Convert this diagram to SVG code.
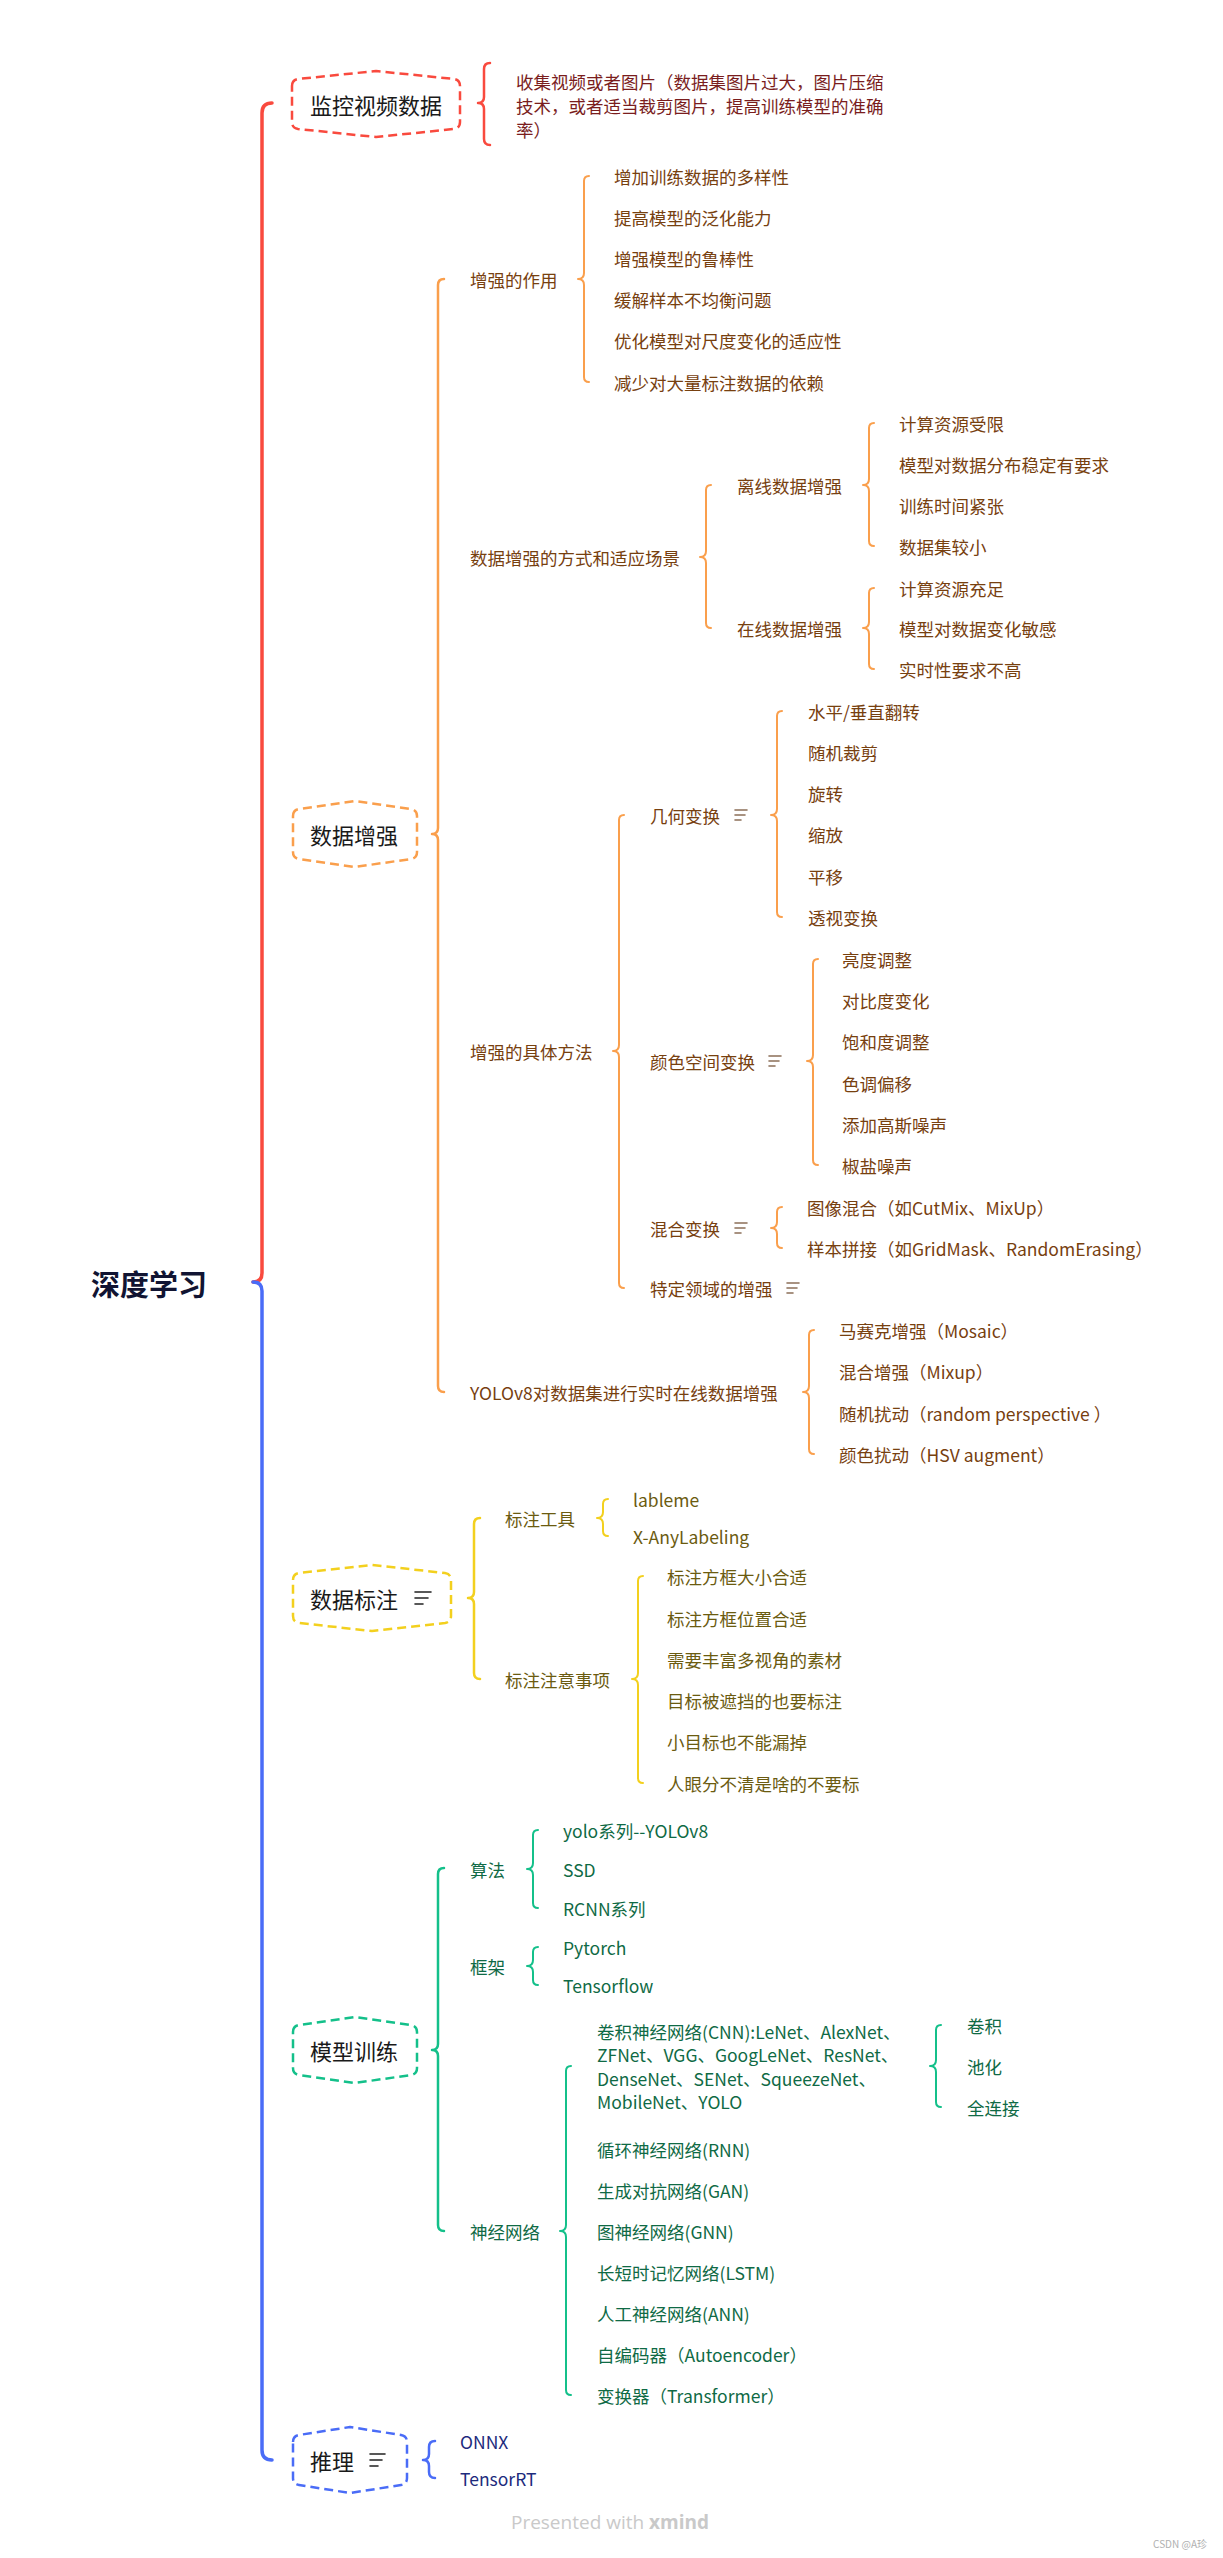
<svg xmlns="http://www.w3.org/2000/svg" width="1223" height="2558" viewBox="0 0 1223 2558">
<style>
text { font-family: "Noto Sans CJK SC", "Noto Sans", sans-serif; dominant-baseline: central; }
.t { font-size: 17.5px; }
.h { font-size: 22px; fill: #1a1a1a; }
.root { font-size: 29px; font-weight: bold; fill: #111432; }
.hex { fill: #ffffff; stroke-width: 2.5; stroke-dasharray: 9 5; stroke-linejoin: round; }
.b { fill: none; stroke-width: 2; stroke-linecap: round; stroke-linejoin: round; }
.b1 { fill: none; stroke-width: 2.5; stroke-linecap: round; stroke-linejoin: round; }
.main { fill: none; stroke-width: 3.5; stroke-linecap: round; stroke-linejoin: round; }
.ic { fill: none; stroke-width: 1.6; stroke-linecap: round; }
.red { stroke: #f94a3e; } .ora { stroke: #fa9f4c; } .yel { stroke: #f3d01e; } .grn { stroke: #14c08a; } .blu { stroke: #4a6cf7; }
.tr { fill: #7a1d1d; } .to { fill: #77400f; } .ty { fill: #6b5b10; } .tg { fill: #0f6a45; } .tb { fill: #1d2b7d; }
</style>

<g id="connectors">
  <path class="main red" d="M272,103 Q262,103 262,113 L262,1273 Q262,1282 253,1282"/>
  <path class="main blu" d="M253,1282 Q262,1282 262,1291 L262,2450 Q262,2460 272,2460"/>
  <path class="b1 red" d="M490,63 Q484,63 484,69 L484,97 Q484,103 478,103 Q484,103 484,109 L484,139 Q484,145 490,145"/>
  <path class="b1 ora" d="M444,279 Q438,279 438,285 L438,828 Q438,834 432,834 Q438,834 438,840 L438,1386 Q438,1392 444,1392"/>
  <path class="b1 yel" d="M480,1518 Q474,1518 474,1524 L474,1592 Q474,1598 468,1598 Q474,1598 474,1604 L474,1673 Q474,1679 480,1679"/>
  <path class="b1 grn" d="M444,1868 Q438,1868 438,1874 L438,2044 Q438,2050 432,2050 Q438,2050 438,2056 L438,2225 Q438,2231 444,2231"/>
  <path class="b1 blu" d="M435,2441 Q429,2441 429,2447 L429,2454 Q429,2460 423,2460 Q429,2460 429,2466 L429,2472 Q429,2478 435,2478"/>
  <path class="b ora" d="M589,176 Q584,176 584,181 L584,273 Q584,279 578,279 Q584,279 584,285 L584,377 Q584,382 589,382"/>
  <path class="b ora" d="M711,485 Q706,485 706,490 L706,551 Q706,557 700,557 Q706,557 706,563 L706,623 Q706,628 711,628"/>
  <path class="b ora" d="M874,423 Q869,423 869,428 L869,479 Q869,485 863,485 Q869,485 869,491 L869,541 Q869,546 874,546"/>
  <path class="b ora" d="M874,588 Q869,588 869,593 L869,622 Q869,628 863,628 Q869,628 869,634 L869,664 Q869,669 874,669"/>
  <path class="b ora" d="M624,815 Q619,815 619,820 L619,1045 Q619,1051 613,1051 Q619,1051 619,1057 L619,1283 Q619,1288 624,1288"/>
  <path class="b ora" d="M782,711 Q777,711 777,716 L777,809 Q777,815 771,815 Q777,815 777,821 L777,912 Q777,917 782,917"/>
  <path class="b ora" d="M818,959 Q813,959 813,964 L813,1055 Q813,1061 807,1061 Q813,1061 813,1067 L813,1160 Q813,1165 818,1165"/>
  <path class="b ora" d="M782,1207 Q777,1207 777,1212 L777,1222 Q777,1228 771,1228 Q777,1228 777,1234 L777,1243 Q777,1248 782,1248"/>
  <path class="b ora" d="M814,1330 Q809,1330 809,1335 L809,1386 Q809,1392 803,1392 Q809,1392 809,1398 L809,1449 Q809,1454 814,1454"/>
  <path class="b yel" d="M608,1499 Q603,1499 603,1504 L603,1512 Q603,1518 597,1518 Q603,1518 603,1524 L603,1531 Q603,1536 608,1536"/>
  <path class="b yel" d="M643,1576 Q638,1576 638,1581 L638,1673 Q638,1679 632,1679 Q638,1679 638,1685 L638,1778 Q638,1783 643,1783"/>
  <path class="b grn" d="M538,1830 Q533,1830 533,1835 L533,1863 Q533,1869 527,1869 Q533,1869 533,1875 L533,1903 Q533,1908 538,1908"/>
  <path class="b grn" d="M538,1947 Q533,1947 533,1952 L533,1960 Q533,1966 527,1966 Q533,1966 533,1972 L533,1980 Q533,1985 538,1985"/>
  <path class="b grn" d="M571,2066 Q566,2066 566,2071 L566,2225 Q566,2231 560,2231 Q566,2231 566,2237 L566,2390 Q566,2395 571,2395"/>
  <path class="b grn" d="M941,2025 Q936,2025 936,2030 L936,2060 Q936,2066 930,2066 Q936,2066 936,2072 L936,2102 Q936,2107 941,2107"/>
</g>

<g id="root"><text class="root" x="91" y="1283">深度学习</text></g>

<g id="n-jiankong">
  <path class="hex red" d="M292,86 Q292,80 298,79 L376,71 L454,79 Q460,80 460,86 L460,122 Q460,128 454,129 L376,137 L298,129 Q292,128 292,122 Z"/>
  <text class="h" x="310" y="104">监控视频数据</text>
</g>
<g id="n-note">
  <text class="t tr" x="516" y="81">收集视频或者图片（数据集图片过大，图片压缩</text>
  <text class="t tr" x="516" y="105">技术，或者适当裁剪图片，提高训练模型的准确</text>
  <text class="t tr" x="516" y="129">率）</text>
</g>

<g id="n-zengqiang">
  <path class="hex ora" d="M293,816 Q293,810 299,809 L355,801 L411,809 Q417,810 417,816 L417,852 Q417,858 411,859 L355,867 L299,859 Q293,858 293,852 Z"/>
  <text class="h" x="310" y="834">数据增强</text>
</g>
<g id="n-zuoyong" class="to">
  <text class="t to" x="470" y="279">增强的作用</text>
  <text class="t to" x="614" y="176">增加训练数据的多样性</text>
  <text class="t to" x="614" y="217">提高模型的泛化能力</text>
  <text class="t to" x="614" y="258">增强模型的鲁棒性</text>
  <text class="t to" x="614" y="299">缓解样本不均衡问题</text>
  <text class="t to" x="614" y="340">优化模型对尺度变化的适应性</text>
  <text class="t to" x="614" y="382">减少对大量标注数据的依赖</text>
</g>
<g id="n-fangshi">
  <text class="t to" x="470" y="557">数据增强的方式和适应场景</text>
  <text class="t to" x="737" y="485">离线数据增强</text>
  <text class="t to" x="899" y="423">计算资源受限</text>
  <text class="t to" x="899" y="464">模型对数据分布稳定有要求</text>
  <text class="t to" x="899" y="505">训练时间紧张</text>
  <text class="t to" x="899" y="546">数据集较小</text>
  <text class="t to" x="737" y="628">在线数据增强</text>
  <text class="t to" x="899" y="588">计算资源充足</text>
  <text class="t to" x="899" y="628">模型对数据变化敏感</text>
  <text class="t to" x="899" y="669">实时性要求不高</text>
</g>
<g id="n-fangfa">
  <text class="t to" x="470" y="1051">增强的具体方法</text>
  <text class="t to" x="650" y="815">几何变换</text>
  <path class="ic" stroke="#8c6f58" d="M735,810 h12 M735,815 h10 M735,820 h6"/>
  <text class="t to" x="808" y="711">水平/垂直翻转</text>
  <text class="t to" x="808" y="752">随机裁剪</text>
  <text class="t to" x="808" y="793">旋转</text>
  <text class="t to" x="808" y="834">缩放</text>
  <text class="t to" x="808" y="876">平移</text>
  <text class="t to" x="808" y="917">透视变换</text>
  <text class="t to" x="650" y="1061">颜色空间变换</text>
  <path class="ic" stroke="#8c6f58" d="M769,1056 h12 M769,1061 h10 M769,1066 h6"/>
  <text class="t to" x="842" y="959">亮度调整</text>
  <text class="t to" x="842" y="1000">对比度变化</text>
  <text class="t to" x="842" y="1041">饱和度调整</text>
  <text class="t to" x="842" y="1083">色调偏移</text>
  <text class="t to" x="842" y="1124">添加高斯噪声</text>
  <text class="t to" x="842" y="1165">椒盐噪声</text>
  <text class="t to" x="650" y="1228">混合变换</text>
  <path class="ic" stroke="#8c6f58" d="M735,1223 h12 M735,1228 h10 M735,1233 h6"/>
  <text class="t to" x="807" y="1207">图像混合（如CutMix、MixUp）</text>
  <text class="t to" x="807" y="1248">样本拼接（如GridMask、RandomErasing）</text>
  <text class="t to" x="650" y="1288">特定领域的增强</text>
  <path class="ic" stroke="#8c6f58" d="M787,1283 h12 M787,1288 h10 M787,1293 h6"/>
</g>
<g id="n-yolo">
  <text class="t to" x="470" y="1392">YOLOv8对数据集进行实时在线数据增强</text>
  <text class="t to" x="839" y="1330">马赛克增强（Mosaic）</text>
  <text class="t to" x="839" y="1371">混合增强（Mixup）</text>
  <text class="t to" x="839" y="1413">随机扰动（random perspective ）</text>
  <text class="t to" x="839" y="1454">颜色扰动（HSV augment）</text>
</g>

<g id="n-biaozhu">
  <path class="hex yel" d="M293,1580 Q293,1574 299,1573 L372,1565 L445,1573 Q451,1574 451,1580 L451,1616 Q451,1622 445,1623 L372,1631 L299,1623 Q293,1622 293,1616 Z"/>
  <text class="h" x="310" y="1598">数据标注</text>
  <path class="ic" stroke="#222" d="M415,1592 h16 M415,1598 h13 M415,1604 h8"/>
</g>
<g id="n-gongju">
  <text class="t ty" x="505" y="1518">标注工具</text>
  <text class="t ty" x="633" y="1499">lableme</text>
  <text class="t ty" x="633" y="1536">X-AnyLabeling</text>
</g>
<g id="n-zhuyi">
  <text class="t ty" x="505" y="1679">标注注意事项</text>
  <text class="t ty" x="667" y="1576">标注方框大小合适</text>
  <text class="t ty" x="667" y="1618">标注方框位置合适</text>
  <text class="t ty" x="667" y="1659">需要丰富多视角的素材</text>
  <text class="t ty" x="667" y="1700">目标被遮挡的也要标注</text>
  <text class="t ty" x="667" y="1741">小目标也不能漏掉</text>
  <text class="t ty" x="667" y="1783">人眼分不清是啥的不要标</text>
</g>

<g id="n-xunlian">
  <path class="hex grn" d="M293,2032 Q293,2026 299,2025 L355,2017 L411,2025 Q417,2026 417,2032 L417,2068 Q417,2074 411,2075 L355,2083 L299,2075 Q293,2074 293,2068 Z"/>
  <text class="h" x="310" y="2050">模型训练</text>
</g>
<g id="n-suanfa">
  <text class="t tg" x="470" y="1869">算法</text>
  <text class="t tg" x="563" y="1830">yolo系列--YOLOv8</text>
  <text class="t tg" x="563" y="1869">SSD</text>
  <text class="t tg" x="563" y="1908">RCNN系列</text>
</g>
<g id="n-kuangjia">
  <text class="t tg" x="470" y="1966">框架</text>
  <text class="t tg" x="563" y="1947">Pytorch</text>
  <text class="t tg" x="563" y="1985">Tensorflow</text>
</g>
<g id="n-shenjing">
  <text class="t tg" x="470" y="2231">神经网络</text>
  <text class="t tg" x="597" y="2031">卷积神经网络(CNN):LeNet、AlexNet、</text>
  <text class="t tg" x="597" y="2054">ZFNet、VGG、GoogLeNet、ResNet、</text>
  <text class="t tg" x="597" y="2078">DenseNet、SENet、SqueezeNet、</text>
  <text class="t tg" x="597" y="2101">MobileNet、YOLO</text>
  <text class="t tg" x="967" y="2025">卷积</text>
  <text class="t tg" x="967" y="2066">池化</text>
  <text class="t tg" x="967" y="2107">全连接</text>
  <text class="t tg" x="597" y="2149">循环神经网络(RNN)</text>
  <text class="t tg" x="597" y="2190">生成对抗网络(GAN)</text>
  <text class="t tg" x="597" y="2231">图神经网络(GNN)</text>
  <text class="t tg" x="597" y="2272">长短时记忆网络(LSTM)</text>
  <text class="t tg" x="597" y="2313">人工神经网络(ANN)</text>
  <text class="t tg" x="597" y="2354">自编码器（Autoencoder）</text>
  <text class="t tg" x="597" y="2395">变换器（Transformer）</text>
</g>

<g id="n-tuili">
  <path class="hex blu" d="M293,2442 Q293,2436 299,2435 L350,2427 L401,2435 Q407,2436 407,2442 L407,2478 Q407,2484 401,2485 L350,2493 L299,2485 Q293,2484 293,2478 Z"/>
  <text class="h" x="310" y="2460">推理</text>
  <path class="ic" stroke="#222" d="M370,2454 h15 M370,2460 h12 M370,2466 h8"/>
</g>
<g id="n-tuili-children">
  <text class="t tb" x="460" y="2441">ONNX</text>
  <text class="t tb" x="460" y="2478">TensorRT</text>
</g>

<g id="watermark">
  <text x="610" y="2522" text-anchor="middle" style="font-family:'Open Sans','Noto Sans',sans-serif;font-size:19px;fill:#c9c9c9">Presented with <tspan font-weight="bold">xmind</tspan></text>
  <text x="1207" y="2543" text-anchor="end" style="font-size:10px;fill:#b0b0b0">CSDN @A珍</text>
</g>
</svg>
